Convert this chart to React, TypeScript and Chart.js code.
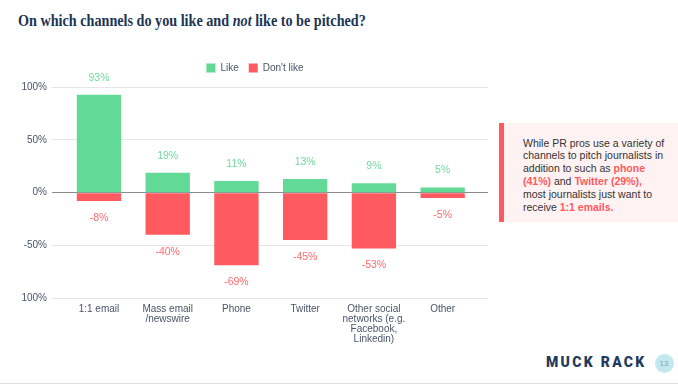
import React, { useEffect, useRef } from "react";
import { Chart, registerables } from "chart.js";

Chart.register(...registerables);

const categories: (string | string[])[] = [
  "1:1 email",
  ["Mass email", "/newswire"],
  "Phone",
  "Twitter",
  ["Other social", "networks (e.g.", "Facebook,", "Linkedin)"],
  "Other",
];
const likeValues = [93, 19, 11, 13, 9, 5];
const dislikeValues = [-8, -40, -69, -45, -53, -5];
const yTicks = [-100, -50, 0, 50, 100];
const seriesNames = ["Like", "Don't like"];

const GREEN = "#62d996";
const RED = "#ff5a5f";
const AXIS_TEXT = "#4a5468";

const valueLabels = {
  id: "valueLabels",
  afterDatasetsDraw(chart: any) {
    const ctx = chart.ctx;
    ctx.save();
    ctx.font = "10.5px 'Liberation Sans', Arial, sans-serif";
    ctx.textAlign = "center";
    ctx.textBaseline = "middle";
    chart.data.datasets.forEach((ds: any, di: number) => {
      const meta = chart.getDatasetMeta(di);
      meta.data.forEach((el: any, i: number) => {
        const v = ds.data[i];
        const y = v >= 0 ? el.y - 17 : el.y + 17;
        ctx.fillStyle = v >= 0 ? "#6ddc9e" : "#ff6b6f";
        ctx.fillText(v + "%", el.x, y);
      });
    });
    ctx.restore();
  },
};

const legendSpacer = {
  id: "legendSpacer",
  beforeLayout(chart: any) {
    const lg = chart.legend;
    if (lg && !lg._spacerPatched) {
      const orig = lg.fit.bind(lg);
      lg.fit = function () {
        orig();
        this.height += 4.3;
      };
      lg._spacerPatched = true;
    }
  },
};

function ChannelChart() {
  const ref = useRef<HTMLCanvasElement | null>(null);
  useEffect(() => {
    if (!ref.current) return;
    const chart = new Chart(ref.current, {
      type: "bar",
      data: {
        labels: categories,
        datasets: [
          {
            label: seriesNames[0],
            data: likeValues,
            backgroundColor: GREEN,
            barPercentage: 0.645,
            categoryPercentage: 1,
          },
          {
            label: seriesNames[1],
            data: dislikeValues,
            backgroundColor: RED,
            barPercentage: 0.645,
            categoryPercentage: 1,
          },
        ],
      },
      options: {
        animation: false,
        responsive: false,
        maintainAspectRatio: false,
        layout: { padding: { left: 22, right: 0, top: 0, bottom: 0 } },
        plugins: {
          legend: {
            position: "top",
            labels: {
              boxWidth: 9,
              boxHeight: 9,
              padding: 10,
              color: AXIS_TEXT,
              font: { family: "'Liberation Sans', Arial, sans-serif", size: 10 },
            },
          },
          tooltip: { enabled: false },
          title: { display: false },
        },
        scales: {
          x: {
            stacked: true,
            grid: { display: false, drawTicks: false },
            border: { display: false },
            ticks: {
              color: AXIS_TEXT,
              padding: 6,
              maxRotation: 0,
              autoSkip: false,
              font: { family: "'Liberation Sans', Arial, sans-serif", size: 10, lineHeight: 1.02 },
            },
            afterFit(scale: any) {
              scale.height = 52;
            },
          },
          y: {
            stacked: true,
            min: -100,
            max: 100,
            position: "left",
            border: { display: false },
            grid: {
              drawTicks: true,
              tickLength: 12.6,
              color: (c: any) => (c.tick && c.tick.value === 0 ? "#8c8c8c" : "#e6e6e6"),
              lineWidth: 1,
            },
            afterBuildTicks(scale: any) {
              scale.ticks = yTicks.map((v) => ({ value: v }));
            },
            ticks: {
              color: AXIS_TEXT,
              padding: 5,
              callback: (v: any) => v + "%",
              font: { family: "'Liberation Sans', Arial, sans-serif", size: 10 },
            },
            afterFit(scale: any) {
              scale.width = 42.6;
            },
          },
          y2: {
            min: -100,
            max: 100,
            position: "right",
            border: { display: false },
            grid: {
              drawOnChartArea: false,
              drawTicks: true,
              tickLength: 11,
              color: (c: any) => (c.tick && c.tick.value === 0 ? "#8c8c8c" : "#e6e6e6"),
            },
            afterBuildTicks(scale: any) {
              scale.ticks = yTicks.map((v) => ({ value: v }));
            },
            ticks: { display: false },
            afterFit(scale: any) {
              scale.width = 11;
            },
          },
        },
      },
      plugins: [valueLabels, legendSpacer],
    });
    return () => chart.destroy();
  }, []);
  return (
    <canvas
      ref={ref}
      width={488}
      height={297}
      style={{ position: "absolute", left: 0, top: 53, width: 488, height: 297 }}
    />
  );
}

export default function App() {
  const red = { color: RED, fontWeight: 700 as const };
  return (
    <div
      style={{
        position: "fixed",
        left: 0,
        top: 0,
        width: 678,
        height: 385,
        background: "#ffffff",
        overflow: "hidden",
      }}
    >
      <div
        style={{
          position: "absolute",
          left: 18,
          top: 9,
          fontFamily: "'Liberation Serif', 'Times New Roman', serif",
          fontWeight: 700,
          fontSize: 17.5,
          lineHeight: "22px",
          color: "#1c3553",
          whiteSpace: "nowrap",
          transform: "scaleX(0.81)",
          transformOrigin: "0 0",
        }}
      >
        On which channels do you like and <i>not</i> like to be pitched?
      </div>
      <ChannelChart />
      <div
        style={{
          position: "absolute",
          left: 499,
          top: 123,
          width: 179,
          height: 99,
          background: "#fff2f2",
          borderLeft: "5px solid " + RED,
          boxSizing: "border-box",
        }}
      />
      <div
        style={{
          position: "absolute",
          left: 523,
          top: 136.5,
          fontFamily: "'Liberation Sans', Arial, sans-serif",
          fontSize: 10.5,
          lineHeight: "12.9px",
          color: "#333333",
          whiteSpace: "nowrap",
        }}
      >
        While PR pros use a variety of
        <br />
        channels to pitch journalists in
        <br />
        addition to such as <span style={red}>phone</span>
        <br />
        <span style={red}>(41%)</span> and <span style={red}>Twitter (29%),</span>
        <br />
        most journalists just want to
        <br />
        receive <span style={red}>1:1 emails.</span>
      </div>
      <div
        style={{
          position: "absolute",
          left: 546,
          top: 354,
          fontFamily: "Roboto, 'Liberation Sans', sans-serif",
          fontWeight: 900,
          fontSize: 14,
          letterSpacing: "2.3px",
          color: "#1f3b5c",
          whiteSpace: "nowrap",
          lineHeight: "16px",
        }}
      >
        MUCK RACK
      </div>
      <div
        style={{
          position: "absolute",
          left: 654.5,
          top: 353.5,
          width: 19,
          height: 19,
          borderRadius: "50%",
          background: "#c2e9ee",
          color: "#8fa4ab",
          fontFamily: "'Liberation Sans', Arial, sans-serif",
          fontSize: 8,
          lineHeight: "19px",
          textAlign: "center",
        }}
      >
        13
      </div>
      <div
        style={{
          position: "absolute",
          left: 0,
          top: 383,
          width: 678,
          height: 1,
          background: "#dddddd",
        }}
      />
    </div>
  );
}
